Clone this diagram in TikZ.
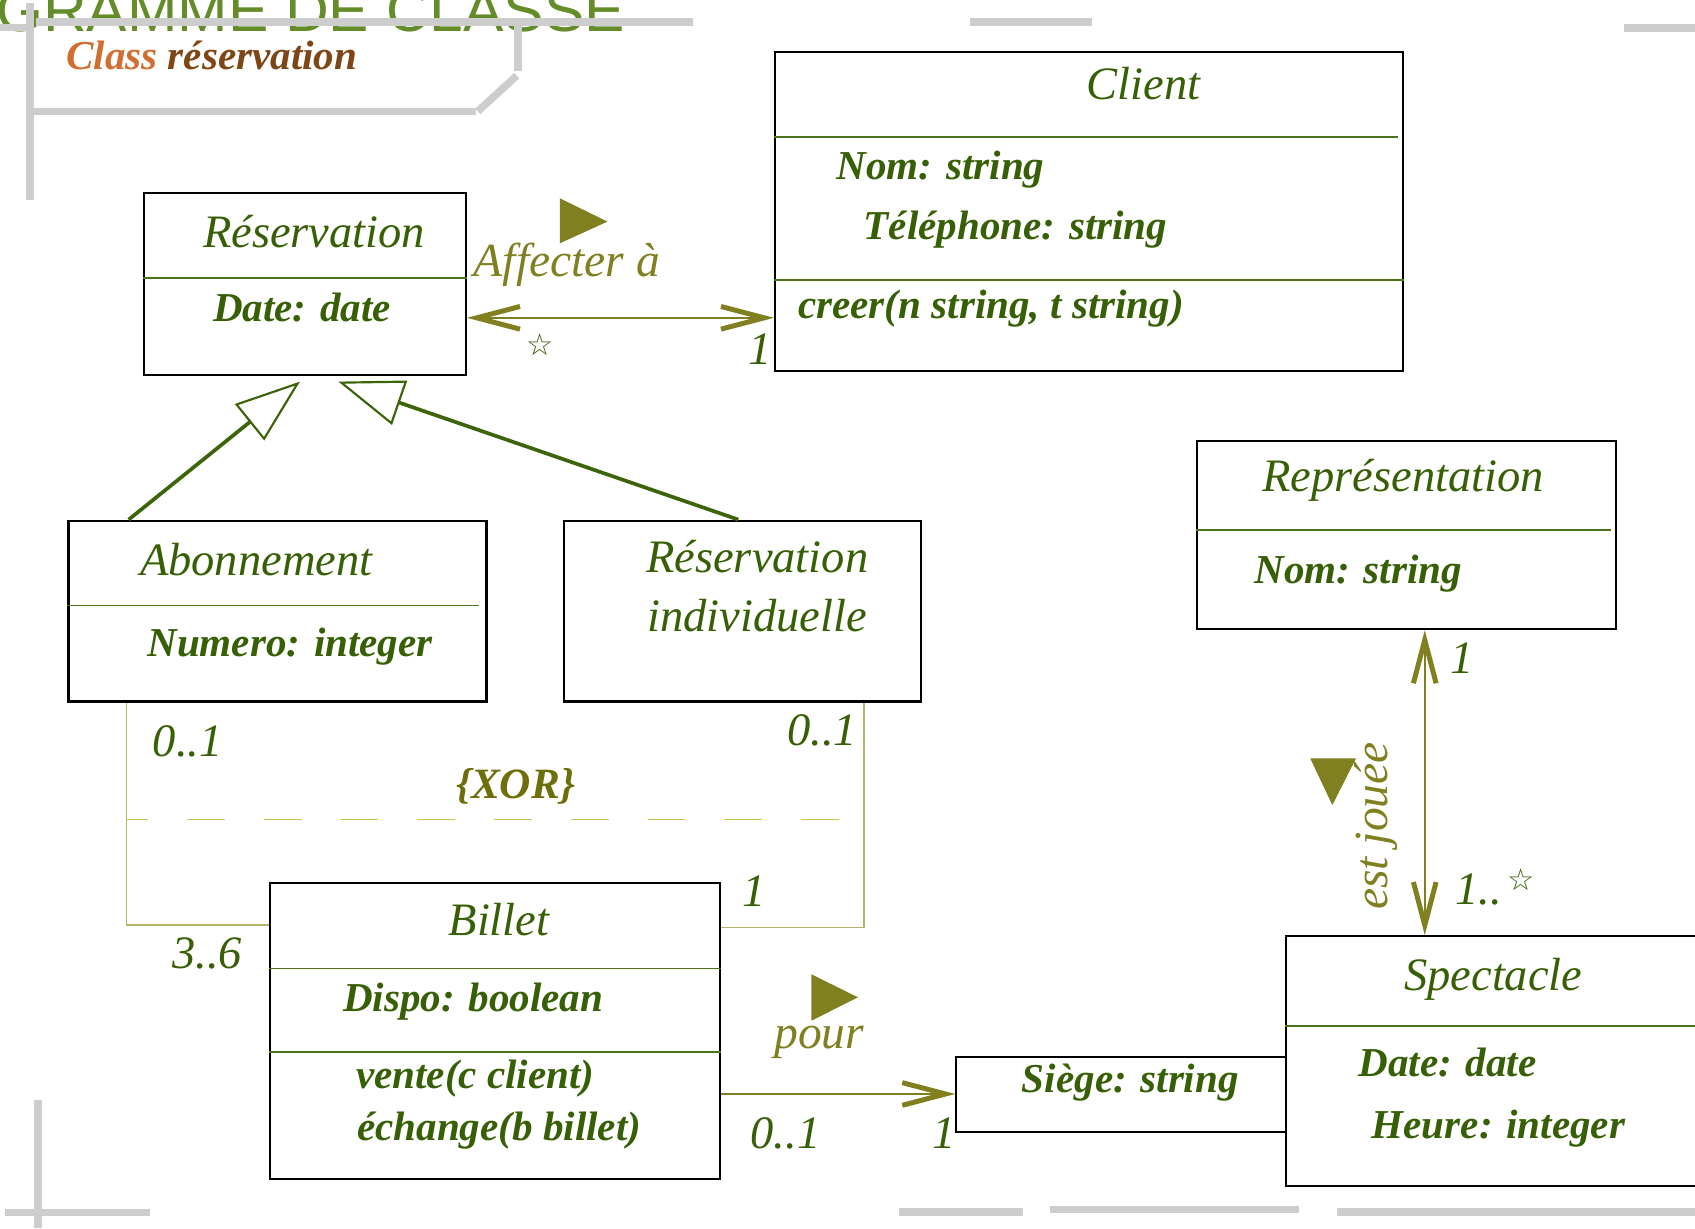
\documentclass[tikz,border=0pt]{standalone}
\usepackage{fontspec}
\setmainfont{Liberation Serif}
\newfontfamily\titlefont{Liberation Sans}
\newfontfamily\symfont{DejaVu Sans}
\usetikzlibrary{arrows.meta,fit}

\definecolor{titlegreen}{RGB}{100,140,40}
\definecolor{classorange}{RGB}{210,110,50}
\definecolor{classbrown}{RGB}{125,70,20}
\definecolor{txtgreen}{RGB}{55,95,5}
\definecolor{sepgreen}{RGB}{75,115,25}
\definecolor{gengreen}{RGB}{60,100,10}
\definecolor{assocolive}{RGB}{128,128,32}
\definecolor{xorolive}{RGB}{180,180,100}
\definecolor{xordash}{RGB}{200,200,80}
\definecolor{xortext}{RGB}{110,110,10}
\definecolor{framegrey}{RGB}{205,205,205}

\newcommand{\etoile}{{\symfont\fontsize{14}{14}\selectfont ☆}}

\begin{document}
\begin{tikzpicture}[x=0.5pt, y=-0.5pt,
  box/.style={draw=black, line width=1pt, inner sep=0pt},
  sep/.style={draw=sepgreen, line width=0.8pt},
  cname/.style={text=txtgreen, font=\fontsize{21.5}{24}\selectfont\itshape, anchor=base, inner sep=0pt},
  attr/.style={text=txtgreen, font=\fontsize{19}{22}\selectfont\bfseries\itshape, anchor=base west, inner sep=0pt},
  mult/.style={text=txtgreen, font=\fontsize{21.5}{24}\selectfont\itshape, anchor=base west, inner sep=0pt},
  role/.style={text=assocolive, font=\fontsize{22}{24}\selectfont\itshape, inner sep=0pt},
  opentip/.tip={Straight Barb[length=20pt, width=10.5pt, line width=2.3pt]},
  assoc/.style={draw=assocolive, line width=1pt},
  gen/.style={draw=gengreen, line width=1.7pt, -{Triangle[open, length=30pt, width=21.5pt, line width=1pt]}},
  xorline/.style={draw=xorolive, line width=0.8pt},
  greyline/.style={draw=framegrey, line width=3.5pt},
]
\useasboundingbox (0,0) rectangle (1568,1136);
\clip (0,0) rectangle (1568,1136);
\fill[white] (0,0) rectangle (1568,1136);

% slide heading
\node[anchor=base west, inner sep=0pt, text=titlegreen, font=\titlefont\fontsize{28}{30}\selectfont] (title) at (-4,29.3) {GRAMME DE CLASSE};
\node[anchor=base west, inner sep=0pt, font=\fontsize{19}{22}\selectfont\bfseries\itshape] (subtitle) at (61,64.7) {\textcolor{classorange}{Class} \textcolor{classbrown}{réservation}};

% grey frame pieces
\draw[greyline] (0,25.5) -- (31,25.5);
\draw[greyline] (33,20.4) -- (641,20.4);
\draw[greyline] (28,3) -- (28,185);
\draw[greyline] (479,23) -- (479,66);
\draw[greyline] (478,70) -- (442,103);
\draw[greyline] (31,103) -- (440,103);
\draw[greyline] (897,20.4) -- (1010,20.4);
\draw[greyline] (1502,25.7) -- (1568,25.7);
\draw[greyline] (35,1018) -- (35,1136);
\draw[greyline] (4.6,1121.5) -- (139,1121.5);
\draw[greyline] (831.5,1121) -- (946.4,1121);
\draw[greyline] (971,1118.8) -- (1202,1118.8);
\draw[greyline] (1237,1121) -- (1568,1121);

% classes
\node[box, fit={(133.5,178.8) (431,347)}] (resa) {};
\draw[sep] (resa.west |- 0,257) -- (resa.east |- 0,257);
\node[cname] (resaname) at (290.5,229) {Réservation};
\node[attr] (resadate) at (196.7,297.6) {Date: date};

\node[box, fit={(717,48) (1298,343.5)}] (client) {};
\draw[sep] (client.west |- 0,127) -- (1293,127);
\draw[sep] (client.west |- 0,259) -- (client.east |- 0,259);
\node[cname] (clientname) at (1058,92) {Client};
\node[attr] (clientnom) at (773.6,166.5) {Nom: string};
\node[attr] (clienttel) at (798.6,222) {Téléphone: string};
\node[attr] (clientcreer) at (738,294.5) {creer(n string, t string)};

\node[box, fit={(63.3,481.7) (450,649)}] (abon) {};
\draw[sep] (abon.west |- 0,560) -- (443,560);
\node[cname] (abonname) at (237,532) {Abonnement};
\node[attr] (abonnum) at (136,607.5) {Numero: integer};

\node[box, fit={(521.7,481.7) (852,649)}] (resind) {};
\node[cname] (resindname) at (700.5,530) {Réservation};
\node[cname] (resindname2) at (700.5,584) {individuelle};

\node[box, fit={(1107.5,407.7) (1494.7,582)}] (repr) {};
\draw[sep] (repr.west |- 0,490.5) -- (1490,490.5);
\node[cname] (reprname) at (1298,455) {Représentation};
\node[attr] (reprnom) at (1160,540) {Nom: string};

\node[box, fit={(250,817) (666,1091)}] (billet) {};
\draw[sep] (billet.west |- 0,896) -- (billet.east |- 0,896);
\draw[sep] (billet.west |- 0,973) -- (billet.east |- 0,973);
\node[cname] (billetname) at (461.6,865) {Billet};
\node[attr] (billetdispo) at (317,936) {Dispo: boolean};
\node[attr] (billetvente) at (329,1007) {vente(c client)};
\node[attr] (billetech) at (330,1055) {échange(b billet)};

\node[box, fit={(884.7,978) (1190,1047)}] (siege) {};
\node[attr] (siegetxt) at (945,1011) {Siège: string};

\node[box, fit={(1190,866) (1620,1097)}] (spect) {};
\draw[sep] (spect.west |- 0,949) -- (spect.east |- 0,949);
\node[cname] (spectname) at (1381.4,916) {Spectacle};
\node[attr] (spectdate) at (1256.4,996) {Date: date};
\node[attr] (spectheure) at (1268.6,1053) {Heure: integer};

% inheritance
\coordinate (g1) at (277.5,353);
\coordinate (g2) at (313,353);
\draw[gen] (abon.north -| 119,0) -- (g1);
\draw[gen] (resind.north -| 683,0) -- (g2);

% associations
\draw[assoc, opentip-opentip] (resa.east |- 0,294) -- (client.west |- 0,294);
\node[role, anchor=base west] (affecter) at (438,256) {Affecter à};
\fill[assocolive] (518,183.5) -- (562,205) -- (518,225) -- cycle;
\node[inner sep=0pt, text=txtgreen] (m1) at (500,319) {\etoile};
\node[mult] (m2) at (692,337.6) {1};

\draw[assoc, -opentip] (billet.east |- 0,1012) -- (siege.west |- 0,1012);
\node[role, anchor=base west] (pour) at (716,969.8) {pour};
\fill[assocolive] (750.6,901.3) -- (793.7,922.6) -- (750.6,944.2) -- cycle;
\node[mult] (m3) at (694,1062) {0..1};
\node[mult] (m4) at (862,1062) {1};

\draw[assoc, opentip-opentip] (repr.south -| 1318,0) -- (spect.north -| 1318,0);
\node[role, rotate=90] (joue) at (1273,764) {est jouée};
\fill[assocolive] (1212,701.5) -- (1254.4,701.5) -- (1232.5,744.7) -- cycle;
\node[mult] (m5) at (1341,622.6) {1};
\node[mult] (m6) at (1345.7,837) {1..};
\node[inner sep=0pt, text=txtgreen] (m7) at (1407,814) {\etoile};

% xor constraint
\draw[xorline] (abon.south -| 117,0) |- (billet.west |- 0,856);
\draw[xorline] (resind.south -| 799,0) |- (billet.east |- 0,858);
\draw[draw=xordash, line width=0.8pt, dash pattern=on 17.5pt off 18pt, dash phase=7.5pt] (117,758) -- (799,758);
\node[anchor=base west, inner sep=0pt, text=xortext, font=\fontsize{20}{22}\selectfont\bfseries\itshape] (xor) at (421.5,738.5) {\{XOR\}};
\node[mult] (m8) at (141,700) {0..1};
\node[mult] (m9) at (728,690) {0..1};
\node[mult] (m10) at (686,838.7) {1};
\node[mult] (m11) at (159,895.5) {3..6};
\end{tikzpicture}
\end{document}
